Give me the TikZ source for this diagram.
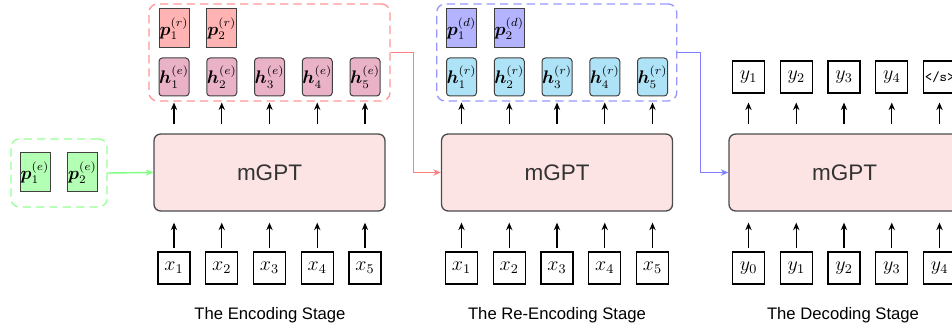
\documentclass[tikz,border=0pt]{standalone}
\usepackage{amsmath}
\usepackage{fontspec}
\newfontfamily\arial{Liberation Sans}
\usetikzlibrary{arrows.meta}
\definecolor{gptfill}{RGB}{253,228,228}
\definecolor{prfill}{RGB}{255,179,179}
\definecolor{hefill}{RGB}{234,178,198}
\definecolor{pdfill}{RGB}{179,179,255}
\definecolor{hrfill}{RGB}{174,226,247}
\definecolor{pefill}{RGB}{179,255,179}
\definecolor{rdash}{RGB}{255,150,150}
\definecolor{bdash}{RGB}{150,150,255}
\definecolor{gdash}{RGB}{150,255,150}
\definecolor{rline}{RGB}{255,128,128}
\definecolor{bline}{RGB}{128,128,255}
\definecolor{gline}{RGB}{128,255,128}
\tikzset{
  inbox/.style={draw=black, line width=0.7pt, minimum width=19.2pt, minimum height=19.2pt, inner sep=0pt, font=\fontsize{11.5}{12}\selectfont},
  hbox/.style={draw=black!75, line width=0.6pt, rounded corners=2pt, minimum width=18pt, minimum height=22.8pt, inner sep=0pt, font=\fontsize{10.5}{12}\selectfont},
  pbox/.style={draw=black!75, line width=0.6pt, minimum width=18pt, minimum height=23.4pt, inner sep=0pt, font=\fontsize{10.5}{12}\selectfont},
  gpt/.style={draw=black!70, line width=0.8pt, fill=gptfill, rounded corners=4pt, minimum width=138.6pt, minimum height=46.2pt, inner sep=0pt, font=\arial\fontsize{13.5}{16}\selectfont, text=black!80},
  group/.style={dash pattern=on 5pt off 3pt, line width=0.8pt, rounded corners=5pt, inner sep=0pt},
  arr/.style={-{Stealth[length=4.5pt,width=3.8pt]}, line width=0.7pt},
  carr/.style={-{Stealth[length=4.5pt,width=3.8pt]}, line width=0.85pt},
  lbl/.style={font=\arial\fontsize{10}{12}\selectfont, inner sep=0pt}
}
\begin{document}
\begin{tikzpicture}[x=0.6pt,y=-0.6pt]
\useasboundingbox (0,0) rectangle (952,334);
\clip (0,0) rectangle (952,334);
% ---------- Encoding stage ----------
\node[group, draw=rdash, minimum width=144.6pt, minimum height=58.2pt] (rb) at (269.5,52.5) {};
\node[gpt] (g1) at (269.5,172.5) {mGPT};
\foreach \i in {1,...,5}{
  \node[inbox] (ea\i) at ({269.5+(\i-3)*47.75},268) {$x_{\i}$};
  \node[hbox, fill=hefill] (eh\i) at ({269.5+(\i-3)*47.75},77) {$\boldsymbol{h}_{\i}^{(e)}$};
  \draw[arr, shorten <=1.8pt, shorten >=6.6pt] (ea\i.north) -- (ea\i.north |- g1.south);
  \draw[arr, shorten <=5.4pt, shorten >=3.6pt] (eh\i.south |- g1.north) -- (eh\i.south);
}
\foreach \i in {1,2}{
  \node[pbox, fill=prfill] (ep\i) at ({269.5+(\i-3)*47.75},28.5) {$\boldsymbol{p}_{\i}^{(r)}$};
}
\node[lbl] (l1) at (270,315) {The Encoding Stage};
% green prompt group
\node[group, draw=gdash, minimum width=57.6pt, minimum height=40.8pt] (gb) at (59,173) {};
\node[pbox, fill=pefill] (gp1) at (35,172.5) {$\boldsymbol{p}_{1}^{(e)}$};
\node[pbox, fill=pefill] (gp2) at (82.5,172.5) {$\boldsymbol{p}_{2}^{(e)}$};
\draw[carr, draw=gline] (gb.east) -- (g1.west);
% ---------- Re-encoding stage ----------
\node[group, draw=bdash, minimum width=144pt, minimum height=58.2pt] (bb) at (556.7,52.5) {};
\node[gpt] (g2) at (557,172.5) {mGPT};
\foreach \i in {1,...,5}{
  \node[inbox] (ra\i) at ({557+(\i-3)*47.75},268) {$x_{\i}$};
  \node[hbox, fill=hrfill] (rh\i) at ({557+(\i-3)*47.75},77) {$\boldsymbol{h}_{\i}^{(r)}$};
  \draw[arr, shorten <=1.8pt, shorten >=6.6pt] (ra\i.north) -- (ra\i.north |- g2.south);
  \draw[arr, shorten <=5.4pt, shorten >=3.6pt] (rh\i.south |- g2.north) -- (rh\i.south);
}
\foreach \i in {1,2}{
  \node[pbox, fill=pdfill] (rp\i) at ({557+(\i-3)*47.75},28.5) {$\boldsymbol{p}_{\i}^{(d)}$};
}
\node[lbl] (l2) at (557,315) {The Re-Encoding Stage};
\draw[carr, draw=rline] (rb.east) -- ++(23,0) |- (g2.west);
% ---------- Decoding stage ----------
\node[gpt] (g3) at (844.5,172.5) {mGPT};
\foreach \i [evaluate=\i as \j using int(\i-1)] in {1,...,5}{
  \node[inbox] (da\i) at ({844+(\i-3)*47.75},268) {$y_{\j}$};
  \draw[arr, shorten <=1.8pt, shorten >=6.6pt] (da\i.north) -- (da\i.north |- g3.south);
}
\foreach \i in {1,...,4}{
  \node[inbox] (dy\i) at ({844+(\i-3)*47.75},77) {$y_{\i}$};
}
\node[inbox, font=\ttfamily\fontsize{8.5}{10}\selectfont] (dy5) at ({844+2*47.75},77) {\makebox[19.2pt][l]{\kern0.8pt</s>}};
\foreach \i in {1,...,5}{
  \draw[arr, shorten <=5.4pt, shorten >=5.4pt] (dy\i.south |- g3.north) -- (dy\i.south);
}
\node[lbl] (l3) at (843,315) {The Decoding Stage};
\draw[carr, draw=bline] (bb.east) -- ++(23,0) |- (g3.west);
\end{tikzpicture}
\end{document}
